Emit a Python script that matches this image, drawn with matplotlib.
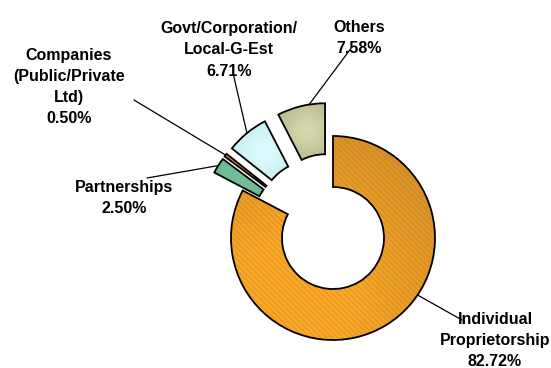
import numpy as np
import matplotlib
matplotlib.use("Agg")
import matplotlib.pyplot as plt
from matplotlib.patches import Wedge
from matplotlib.colors import LinearSegmentedColormap

# Distribution of enterprises by type of ownership (%)
categories = ["Individual\nProprietorship", "Partnerships",
              "Companies\n(Public/Private\nLtd)", "Govt/Corporation/\nLocal-G-Est",
              "Others"]
shares = [82.72, 2.50, 0.50, 6.71, 7.58]
explode = [0.0, 0.33, 0.33, 0.33, 0.33]

base_colors = ["#F7A626", "#6DB893", "#D9762E", "#D6F6F8", "#CFCFA6"]
# centre / rim shades for the gradient fills
grad_colors = [("#FBA828", "#D08C28"), ("#74BE9A", "#5EA483"),
               ("#E08638", "#C0621F"), ("#DDFBFD", "#AFDDE3"),
               ("#D8D8B2", "#9E9E6C")]
grad_reach = [1.1, 0.9, 0.9, 0.55, 0.5]

# label block centres and leader-line start points (figure pixels)
W, H = 551, 368
label_pos = [(495, 341), (124, 198), (69, 87), (229, 50), (359, 38)]
line_start = [(462, 320), (147, 178), (134, 100), (233, 73), (352, 47)]
anchor_angle = [-34, None, None, None, 99]

fig = plt.figure(figsize=(W / 100, H / 100), dpi=100)
ax = fig.add_axes([0, 0, 1, 1])
cx, cy, R = 333, 238, 102

wedges, _ = ax.pie(shares, explode=explode, startangle=90, counterclock=False,
                   radius=1.0, colors=base_colors,
                   wedgeprops=dict(width=0.5, edgecolor="black", linewidth=1.3))

xlim = (-cx / R, (W - cx) / R)
ylim = (-(H - cy) / R, cy / R)

# shaded fills clipped to each wedge: light in the middle, darker towards the rim
for i, (w, (c1, c2)) in enumerate(zip(wedges, grad_colors)):
    cmap = LinearSegmentedColormap.from_list(f"g{i}", [c1, c2])
    xc, yc = w.center
    mid = np.radians((w.theta1 + w.theta2) / 2)
    rm = w.r - w.width / 2
    if i == 0:
        # large ring: darker towards its upper-right part
        gx, gy = xc + 0.9 * np.cos(np.radians(40)), yc + 0.9 * np.sin(np.radians(40))
        fx, fy = xc - 0.4, yc - 0.6
    else:
        gx, gy = xc + rm * np.cos(mid), yc + rm * np.sin(mid)
    xs = np.linspace(xc - 1.05, xc + 1.05, 300)
    ys = np.linspace(yc - 1.05, yc + 1.05, 300)
    X, Y = np.meshgrid(xs, ys)
    if i == 0:
        d = np.hypot(X - fx, Y - fy)
        Z = np.clip((d - 0.6) / 1.4, 0, 1)
    else:
        d = np.hypot(X - gx, Y - gy)
        Z = np.clip(d / grad_reach[i], 0, 1) ** 1.3
    im = ax.imshow(Z, cmap=cmap, vmin=0, vmax=1,
                   extent=(xs[0], xs[-1], ys[0], ys[-1]), origin="lower",
                   zorder=1, interpolation="bilinear")
    im.set_clip_path(w)
    w.set_zorder(3)
    w.set_facecolor("none")

# fine diagonal texture on the large segment
big = wedges[0]
tex = Wedge(big.center, big.r, big.theta1, big.theta2, width=big.width,
            facecolor="none", edgecolor="#B87818", linewidth=0, hatch="\\\\\\\\\\\\",
            alpha=0.3, zorder=2.5)
ax.add_patch(tex)

ax.set_xlim(*xlim)
ax.set_ylim(*ylim)
ax.set_aspect("equal")
ax.axis("off")

for i, w in enumerate(wedges):
    pct = f"{shares[i]:.2f}%"
    lx, ly = label_pos[i]
    fig.text(lx / W, 1 - ly / H, f"{categories[i]}\n{pct}", ha="center", va="center",
             fontsize=11.5, fontweight="bold", family="Liberation Sans",
             linespacing=1.5, zorder=6)
    a = anchor_angle[i]
    if a is None:
        a = (w.theta1 + w.theta2) / 2
    xc, yc = w.center
    ax_pt = (xc + w.r * np.cos(np.radians(a)), yc + w.r * np.sin(np.radians(a)))
    sx, sy = line_start[i]
    ax.annotate("", xy=ax_pt, xycoords="data",
                xytext=(sx / W, 1 - sy / H), textcoords="figure fraction",
                arrowprops=dict(arrowstyle="-", color="black", lw=0.9,
                                shrinkA=0, shrinkB=0), zorder=5)

fig.savefig("out.png", dpi=100)
